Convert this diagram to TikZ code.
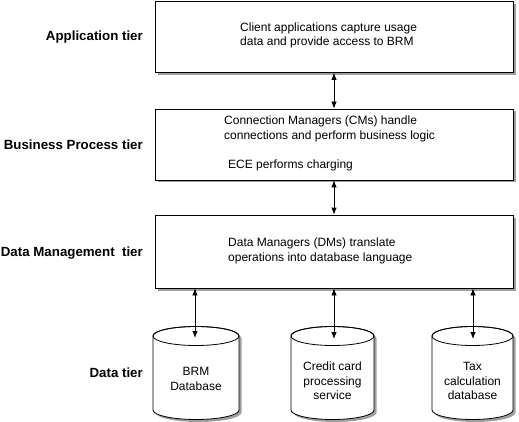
\documentclass[tikz,border=0pt]{standalone}
\usepackage{fontspec}
\setmainfont{Liberation Sans}
\usetikzlibrary{arrows.meta,shadows}
\newcommand\mydbcyl[3]{% cx, rx, name of text
  \fill[gray!75] (#1-#2+2.5,336+2.5) -- (#1-#2+2.5,410+2.5)
    arc[start angle=180,end angle=360,x radius=#2 pt,y radius=9.5pt]
    -- (#1+#2+2.5,336+2.5) arc[start angle=0,end angle=180,x radius=#2 pt,y radius=9.5pt] -- cycle;
  \filldraw[cylline,fill=white] (#1-#2,336) -- (#1-#2,410)
    arc[start angle=180,end angle=360,x radius=#2 pt,y radius=9.5pt]
    -- (#1+#2,336) arc[start angle=0,end angle=180,x radius=#2 pt,y radius=9.5pt] -- cycle;
  \draw[cylline] (#1,336) ellipse[x radius=#2 pt,y radius=9.5pt];
}
\begin{document}
\begin{tikzpicture}[x=1pt,y=-1pt,
  tierbox/.style={draw=black,line width=0.8pt,fill=white,minimum width=358pt,minimum height=71pt,inner sep=0pt,
    drop shadow={shadow xshift=2.5pt,shadow yshift=-2.5pt,fill=gray!75,opacity=1}},
  cylline/.style={draw=black,line width=0.8pt},
  bodytext/.style={inner sep=0pt,align=left,anchor=west,font=\fontsize{12}{14.5}\selectfont},
  cyltext/.style={inner sep=0pt,align=center,font=\fontsize{12}{14.5}\selectfont},
  tierlabel/.style={inner sep=0pt,anchor=east,font=\fontsize{13.3}{16}\selectfont\bfseries},
  biarrow/.style={line width=0.8pt,{Latex[length=7pt,width=5.5pt]}-{Latex[length=7pt,width=5.5pt]}}
]
\useasboundingbox (0,0) rectangle (519,422);

% tier boxes
\node[tierbox] (app) at (334,37) {};
\node[tierbox] (bus) at (334,144.5) {};
\node[tierbox,minimum height=73pt] (dm) at (334,251.5) {};

% box texts
\node[bodytext] (apptext) at (240,35.5) {Client applications capture usage\\data and provide access to BRM};
\node[bodytext] (bustext) at (224,129) {Connection Managers (CMs) handle\\connections and perform business logic};
\node[bodytext] (ecetext) at (228,165) {ECE performs charging};
\node[bodytext] (dmtext) at (228,251) {Data Managers (DMs) translate\\operations into database language};

% tier labels
\node[tierlabel] (l1) at (143,37) {Application tier};
\node[tierlabel] (l2) at (143,145) {Business Process tier};
\node[tierlabel] (l3) at (143,253) {Data Management\ \ tier};
\node[tierlabel] (l4) at (143,373) {Data tier};

% databases
\mydbcyl{196}{43}{brm}
\mydbcyl{332.5}{41.5}{cc}
\mydbcyl{472.5}{40.5}{tax}
\node[cyltext] (brm) at (196,379) {BRM\\Database};
\node[cyltext] (cc) at (332.5,381) {Credit card\\processing\\service};
\node[cyltext] (tax) at (472.5,381) {Tax\\calculation\\database};
\coordinate (brmtop) at (195,338);
\coordinate (cctop) at (334,339);
\coordinate (taxtop) at (473,339);

% connectors
\draw[biarrow] (app.south) -- (bus.north);
\draw[biarrow] (bus.south) -- (dm.north);
\draw[biarrow] (dm.south -| brmtop) -- (brmtop);
\draw[biarrow] (dm.south -| cctop) -- (cctop);
\draw[biarrow] (dm.south -| taxtop) -- (taxtop);
\end{tikzpicture}
\end{document}
